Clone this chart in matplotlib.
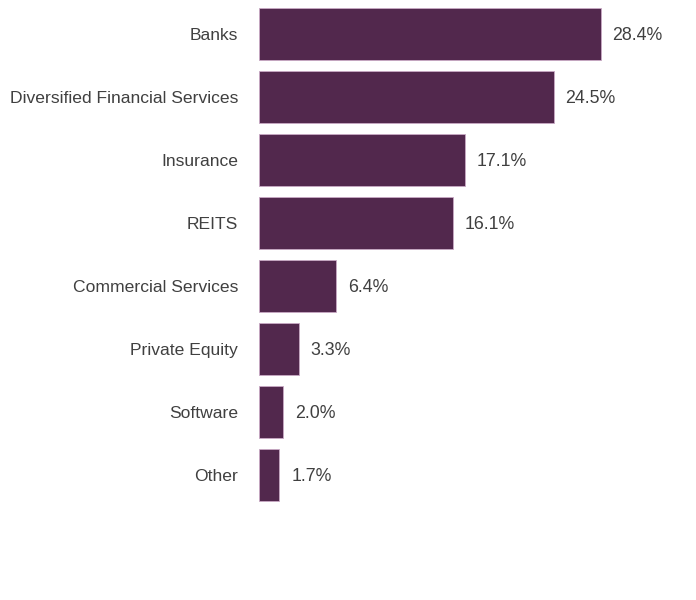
import matplotlib.pyplot as plt

categories = ['Banks', 'Diversified Financial Services', 'Insurance', 'REITS',
              'Commercial Services', 'Private Equity', 'Software', 'Other']
values = [28.4, 24.5, 17.1, 16.1, 6.4, 3.3, 2.0, 1.7]

plt.rcParams['font.family'] = ['Liberation Sans', 'DejaVu Sans']

fig = plt.figure(figsize=(6.96, 6.0), dpi=100)
ax = fig.add_axes([0.372, 0.156, 0.553, 0.84])

pos = list(range(len(categories)))
ax.barh(pos, values, height=0.83, color='#52284d', edgecolor='#c9a9c5', linewidth=0.6)
for p, v in zip(pos, values):
    ax.text(v + 1.0, p + 0.02, f'{v:.1f}%', va='center', ha='left', fontsize=12.8, color='#404040')

ax.set_yticks(pos)
ax.set_yticklabels(categories, fontsize=12.6, color='#404040')
ax.tick_params(axis='y', length=0, pad=15)
ax.set_xticks([])
ax.set_xlim(0, 32)
ax.set_ylim(len(categories) - 0.5, -0.5)
for s in ax.spines.values():
    s.set_visible(False)

fig.savefig('out.png', dpi=100)
